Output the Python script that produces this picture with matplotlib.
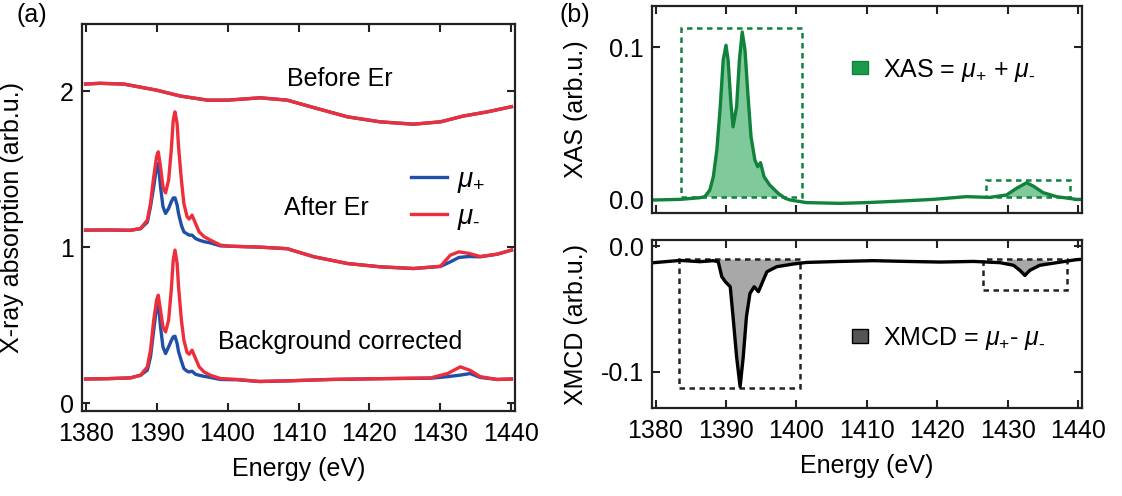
import numpy as np
import matplotlib
matplotlib.use("Agg")
import matplotlib.pyplot as plt
from matplotlib.lines import Line2D
from matplotlib.patches import Patch, Rectangle

plt.rcParams["font.family"] = ["Liberation Sans", "DejaVu Sans"]
plt.rcParams["mathtext.fontset"] = "custom"
plt.rcParams["mathtext.rm"] = "Liberation Sans"
plt.rcParams["mathtext.it"] = "Liberation Sans:italic"

# ---- (a) raw spectra, both helicities ----
e_before = [1380, 1382, 1385.4, 1390, 1393.4, 1397.2, 1400, 1404.6, 1408.4,
            1412.1, 1416.9, 1421.5, 1426.2, 1430, 1433.2, 1436.6, 1440]
before = [2.045, 2.05, 2.045, 2.006, 1.968, 1.942, 1.942, 1.957, 1.942,
          1.895, 1.835, 1.803, 1.788, 1.803, 1.84, 1.867, 1.90]

e_after = [1380, 1383, 1386.3, 1387.75, 1388.7, 1389.15, 1389.6, 1390.0, 1390.24,
           1390.56, 1390.9, 1391.27, 1391.7, 1392.07, 1392.35, 1392.6, 1392.9,
           1393.1, 1393.5, 1393.85, 1394.3, 1394.6, 1395.0, 1395.5, 1396.0,
           1396.7, 1397.6, 1399.0, 1400.4, 1404.6, 1408.4, 1412.2, 1416.9,
           1421.5, 1426.2, 1430.0, 1431.4, 1432.6, 1434.0, 1435.6, 1438.0, 1440.0]
after_minus = [1.109, 1.11, 1.108, 1.12, 1.173, 1.28, 1.45, 1.579, 1.611,
               1.515, 1.387, 1.348, 1.43, 1.62, 1.814, 1.867, 1.79, 1.644,
               1.43, 1.28, 1.195, 1.18, 1.205, 1.151, 1.098, 1.067, 1.045,
               1.013, 1.006, 1.0, 0.99, 0.938, 0.895, 0.874, 0.863, 0.878,
               0.949, 0.97, 0.96, 0.94, 0.955, 0.981]
after_plus = [1.109, 1.11, 1.108, 1.118, 1.16, 1.26, 1.387, 1.515, 1.536,
              1.387, 1.26, 1.216, 1.248, 1.29, 1.315, 1.316, 1.27, 1.215,
              1.14, 1.098, 1.085, 1.077, 1.077, 1.055, 1.045, 1.035, 1.027,
              1.008, 1.006, 1.0, 0.99, 0.938, 0.895, 0.874, 0.863, 0.876,
              0.906, 0.934, 0.94, 0.938, 0.955, 0.981]

e_bg = [1380, 1383, 1386.3, 1387.75, 1388.7, 1389.15, 1389.6, 1390.0, 1390.24,
        1390.56, 1390.9, 1391.27, 1391.7, 1392.07, 1392.35, 1392.6, 1392.9,
        1393.1, 1393.5, 1393.85, 1394.3, 1394.6, 1395.0, 1395.5, 1396.0,
        1396.7, 1397.6, 1399.0, 1401.4, 1404.5, 1408.4, 1414.5, 1421.5,
        1428.6, 1431.0, 1432.8, 1434.2, 1435.6, 1438.0, 1440.0]
bg_minus = [0.155, 0.157, 0.162, 0.179, 0.233, 0.34, 0.532, 0.66, 0.692,
            0.596, 0.489, 0.457, 0.532, 0.724, 0.917, 0.981, 0.895, 0.746,
            0.532, 0.404, 0.325, 0.314, 0.34, 0.286, 0.233, 0.2, 0.179,
            0.158, 0.152, 0.139, 0.143, 0.152, 0.157, 0.162, 0.19, 0.233,
            0.21, 0.17, 0.152, 0.155]
bg_plus = [0.155, 0.157, 0.162, 0.179, 0.212, 0.297, 0.468, 0.617, 0.649,
           0.489, 0.361, 0.318, 0.361, 0.40, 0.425, 0.429, 0.382, 0.33,
           0.27, 0.222, 0.205, 0.2, 0.205, 0.185, 0.179, 0.172, 0.165,
           0.152, 0.15, 0.139, 0.143, 0.152, 0.157, 0.16, 0.17, 0.18,
           0.19, 0.165, 0.152, 0.155]

# ---- (b) sum and difference ----
e_xas = [1379.7, 1383.5, 1386.3, 1387.0, 1387.7, 1388.2, 1388.7, 1389.15, 1389.6,
         1390.0, 1390.3, 1390.7, 1391.0, 1391.5, 1391.9, 1392.3, 1392.7, 1393.1,
         1393.55, 1394.1, 1394.5, 1394.9, 1395.4, 1396.2, 1397.4, 1398.4, 1399.1,
         1401.4, 1406.2, 1410.0, 1414.7, 1419.4, 1424.1, 1427.4, 1429.8, 1431.2,
         1432.65, 1433.6, 1435.0, 1436.9, 1439.7, 1440.5]
xas = [0.0, 0.0004, 0.0015, 0.0022, 0.0065, 0.0152, 0.0327, 0.0588, 0.0915,
       0.1013, 0.0915, 0.0632, 0.0479, 0.061, 0.0915, 0.110, 0.098, 0.0697,
       0.0414, 0.0261, 0.0218, 0.0244, 0.0152, 0.0098, 0.0044, 0.0011, 0.0,
       -0.0017, -0.0022, -0.0017, -0.0007, 0.0004, 0.0022, 0.0017, 0.0033, 0.0076,
       0.0113, 0.0091, 0.0048, 0.0022, 0.0004, 0.0004]

e_xmcd = [1379.7, 1383.5, 1386.3, 1388.2, 1388.9, 1389.4, 1389.9, 1390.6, 1391.0,
          1391.5, 1392.0, 1392.45, 1392.9, 1393.4, 1394.0, 1394.6, 1395.1, 1395.8,
          1397.2, 1399.5, 1401.4, 1406.2, 1410.9, 1415.6, 1420.4, 1425.1, 1428.9,
          1430.8, 1431.7, 1432.4, 1433.1, 1434.5, 1436.9, 1439.7, 1440.5]
xmcd = [-0.0132, -0.0114, -0.0124, -0.0116, -0.0125, -0.0243, -0.0283, -0.0323,
        -0.0561, -0.0878, -0.1117, -0.0878, -0.0561, -0.0376, -0.0323, -0.0362,
        -0.0296, -0.0204, -0.0164, -0.0143, -0.013, -0.0122, -0.0116, -0.0122,
        -0.0127, -0.0122, -0.0132, -0.0153, -0.0193, -0.0233, -0.0193, -0.0153,
        -0.0132, -0.0108, -0.0105]

# edge regions: (e_lo, e_hi, y_lo, y_hi)
xas_boxes = [(1383.6, 1400.8, 0.0022, 0.1124), (1426.9, 1438.8, 0.0022, 0.0131)]
xmcd_boxes = [(1383.3, 1400.5, -0.1127, -0.0103), (1426.5, 1438.4, -0.035, -0.0103)]
xas_fill = [(1387.0, 1398.4), (1429.5, 1437.6)]
xmcd_fill = [(1388.7, 1400.0), (1430.0, 1435.0)]

MU_P = r"$\mu_{\text{+}}$"
MU_M = r"$\mu_{\text{-}}$"

BLUE = "#1f4fa6"
RED = "#ee2f3b"
GREEN = "#10823c"
LGREEN = "#80c99b"
FRAME = "#222222"
FS = 18
LW = 2.4

fig = plt.figure(figsize=(11.22, 4.96), dpi=100)
ax_a = fig.add_axes([0.0731, 0.1714, 0.3859, 0.7802])
ax_t = fig.add_axes([0.5811, 0.5706, 0.3832, 0.4173])
ax_b = fig.add_axes([0.5811, 0.1774, 0.3832, 0.3387])

for ax in (ax_a, ax_t, ax_b):
    ax.set_xlim(1379.5, 1440.5)
    ax.set_xticks(range(1380, 1441, 10))
    ax.tick_params(direction="in", top=True, right=True, length=6, width=1.5,
                   labelsize=FS, pad=8, color=FRAME)
    ax.tick_params(axis="y", pad=6)
    for sp in ax.spines.values():
        sp.set_linewidth(1.6)
        sp.set_color(FRAME)

# (a)
ax_a.plot(e_before, before, color=BLUE, lw=LW)
ax_a.plot(e_before, before, color=RED, lw=LW)
ax_a.plot(e_after, after_plus, color=BLUE, lw=LW)
ax_a.plot(e_after, after_minus, color=RED, lw=LW)
ax_a.plot(e_bg, bg_plus, color=BLUE, lw=LW)
ax_a.plot(e_bg, bg_minus, color=RED, lw=LW)
ax_a.set_ylim(-0.05, 2.43)
ax_a.set_yticks([0, 1, 2])
ax_a.text(1415.8, 2.077, "Before Er", fontsize=FS, ha="center", va="center")
ax_a.text(1407.9, 1.25, "After Er", fontsize=FS, ha="left", va="center")
ax_a.text(1398.7, 0.39, "Background corrected", fontsize=FS, ha="left", va="center")
ax_a.set_xlabel("Energy (eV)", fontsize=FS, labelpad=8)
ax_a.set_ylabel("X-ray absorption (arb.u.)", fontsize=FS)
ax_a.yaxis.set_label_coords(-0.135, 0.5)
ax_a.legend([Line2D([], [], color=BLUE, lw=LW), Line2D([], [], color=RED, lw=LW)],
            [MU_P, MU_M], loc="upper left", bbox_to_anchor=(0.76, 0.63),
            frameon=False, borderpad=0, borderaxespad=0, handlelength=1.3,
            handletextpad=0.35, labelspacing=0.3, fontsize=20)

# (b) top: XAS
ax_t.plot(e_xas, xas, color=GREEN, lw=LW)
ex = np.array(e_xas)
for lo, hi in xas_fill:
    ax_t.fill_between(ex, xas, xas_boxes[0][2], where=(ex >= lo) & (ex <= hi),
                      color=LGREEN, lw=0, interpolate=True)
for x0, x1, y0, y1 in xas_boxes:
    ax_t.add_patch(Rectangle((x0, y0), x1 - x0, y1 - y0, fill=False, ec=GREEN,
                             lw=1.8, ls=(0, (2.2, 1.8))))
ax_t.set_ylim(-0.0085, 0.127)
ax_t.set_yticks([0.0, 0.1])
ax_t.set_yticklabels(["0.0", "0.1"])
ax_t.tick_params(labelbottom=False)
ax_t.set_ylabel("XAS (arb.u.)", fontsize=FS)
ax_t.yaxis.set_label_coords(-0.149, 0.5)
ax_t.legend([Patch(facecolor="#1c9a4c", edgecolor=GREEN, lw=1)],
            ["XAS = " + MU_P + " + " + MU_M], loc="center left",
            bbox_to_anchor=(0.465, 0.69), frameon=False, borderpad=0,
            borderaxespad=0, handlelength=0.65, handleheight=0.45,
            handletextpad=0.6, fontsize=FS)

# (b) bottom: XMCD
ax_b.plot(e_xmcd, xmcd, color="black", lw=LW)
em = np.array(e_xmcd)
for lo, hi in xmcd_fill:
    ax_b.fill_between(em, xmcd, xmcd_boxes[0][3], where=(em >= lo) & (em <= hi),
                      color="#a8a8a8", lw=0, interpolate=True)
for x0, x1, y0, y1 in xmcd_boxes:
    ax_b.add_patch(Rectangle((x0, y0), x1 - x0, y1 - y0, fill=False, ec="#222222",
                             lw=1.8, ls=(0, (2.2, 1.8))))
ax_b.set_ylim(-0.1286, 0.0048)
ax_b.set_yticks([-0.1, 0.0])
ax_b.set_yticklabels(["-0.1", "0.0"])
ax_b.set_xlabel("Energy (eV)", fontsize=FS, labelpad=8)
ax_b.set_ylabel("XMCD (arb.u.)", fontsize=FS)
ax_b.yaxis.set_label_coords(-0.149, 0.5)
ax_b.legend([Patch(facecolor="#555555", edgecolor="black", lw=1)],
            ["XMCD = " + MU_P + "- " + MU_M], loc="center left",
            bbox_to_anchor=(0.465, 0.415), frameon=False, borderpad=0,
            borderaxespad=0, handlelength=0.65, handleheight=0.45,
            handletextpad=0.6, fontsize=FS)

fig.text(0.015, 0.97, "(a)", fontsize=FS, va="center")
fig.text(0.499, 0.97, "(b)", fontsize=FS, va="center")

fig.savefig("out.png", dpi=100)
